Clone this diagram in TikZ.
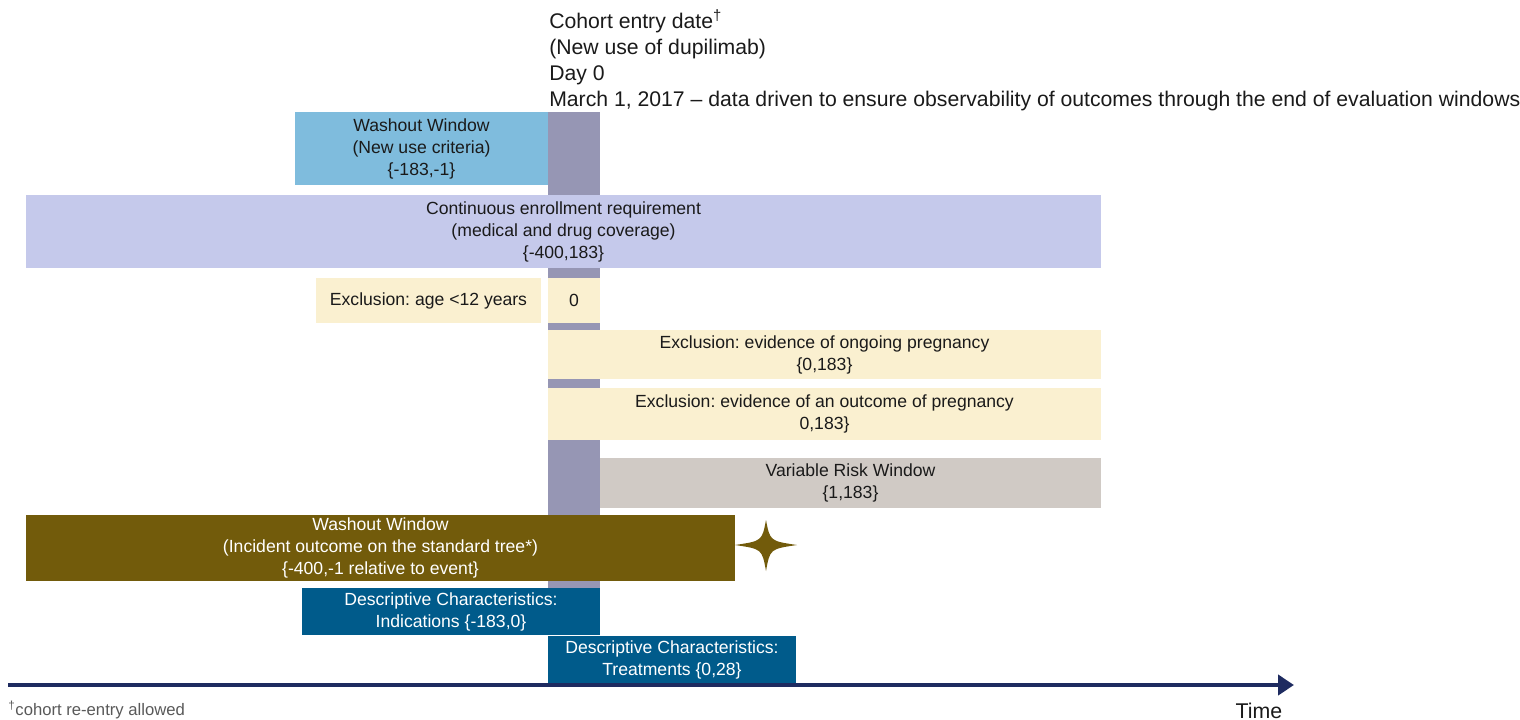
\documentclass[tikz,border=0pt]{standalone}
\usepackage{fontspec}
\setmainfont{Liberation Sans}
\frenchspacing
\usetikzlibrary{arrows.meta}
\definecolor{lblue}{HTML}{7FBCDD}
\definecolor{lavender}{HTML}{C5C9EB}
\definecolor{cream}{HTML}{FAF0D0}
\definecolor{barpurple}{HTML}{9696B4}
\definecolor{riskgrey}{HTML}{D0CAC5}
\definecolor{olive}{HTML}{725B0B}
\definecolor{dblue}{HTML}{005B8B}
\definecolor{axisblue}{HTML}{1E2B60}
\definecolor{textdark}{HTML}{1A1A1A}
\definecolor{notegrey}{HTML}{595959}
\tikzset{
  winbox/.style={draw=none, inner sep=0pt, outer sep=0pt, align=center, text=textdark,
    font=\fontsize{13.2pt}{16.5pt}\selectfont\frenchspacing},
  darkbox/.style={winbox, text=white},
  toplabel/.style={inner sep=0pt, align=left, anchor=north west, text=textdark,
    font=\fontsize{15.9pt}{19.5pt}\selectfont},
}
\begin{document}
\begin{tikzpicture}[x=0.75pt, y=-0.75pt]
\useasboundingbox (0,0) rectangle (1520,720);
% cohort entry bar
\node[draw=none, fill=barpurple, inner sep=0pt, minimum width={52*0.75pt}, minimum height={476*0.75pt}] (bar) at (574,350) {};
% top label
\node[toplabel] (cohort) at (549,9) {Cohort entry date\textsuperscript{†}\\(New use of dupilimab)\\Day 0\\March 1, 2017 -- data driven to ensure observability of outcomes through the end of evaluation windows};
% boxes
\node[winbox, fill=lblue, minimum width={253*0.75pt}, minimum height={73*0.75pt}] (wash1) at (421.5,148.5) {Washout Window\\(New use criteria)\\\{-183,-1\}};
\node[winbox, fill=lavender, minimum width={1075*0.75pt}, minimum height={73*0.75pt}] (enroll) at (563.5,231.5) {Continuous enrollment requirement\\(medical and drug coverage)\\\{-400,183\}};
\node[winbox, fill=cream, minimum width={225*0.75pt}, minimum height={45*0.75pt}] (age) at (428.5,300.5) {Exclusion: age <12 years};
\node[winbox, fill=cream, minimum width={52*0.75pt}, minimum height={45*0.75pt}] (zero) at (574,300.5) {0};
\node[winbox, fill=cream, minimum width={553*0.75pt}, minimum height={49*0.75pt}] (preg) at (824.5,354.5) {Exclusion: evidence of ongoing pregnancy\\\{0,183\}};
\node[winbox, fill=cream, minimum width={553*0.75pt}, minimum height={52*0.75pt}] (pregout) at (824.5,414) {Exclusion: evidence of an outcome of pregnancy\\0,183\}};
\node[winbox, fill=riskgrey, minimum width={501*0.75pt}, minimum height={50*0.75pt}] (risk) at (850.5,483) {Variable Risk Window\\\{1,183\}};
\node[darkbox, fill=olive, minimum width={709*0.75pt}, minimum height={66*0.75pt}] (wash2) at (380.5,548) {Washout Window\\(Incident outcome on the standard tree*)\\\{-400,-1 relative to event\}};
\node[darkbox, fill=dblue, minimum width={298*0.75pt}, minimum height={47*0.75pt}] (indic) at (451,611.5) {Descriptive Characteristics:\\Indications \{-183,0\}};
\node[darkbox, fill=dblue, minimum width={248*0.75pt}, minimum height={49*0.75pt}] (treat) at (672,660) {Descriptive Characteristics:\\Treatments \{0,28\}};
% star
\fill[olive] (766,520) .. controls (770,541) .. (797,545) .. controls (770,549) .. (766,571)
  .. controls (762,549) .. (735,545) .. controls (762,541) .. cycle;
% axis
\coordinate (axstart) at (8,685);
\coordinate (axend) at (1294,685);
\draw[axisblue, line width={4*0.75pt}, -{Triangle[length={16*0.75pt}, width={20*0.75pt}]}] (axstart) -- (axend);
\node[inner sep=0pt, anchor=base, text=textdark, font=\fontsize{16pt}{18pt}\selectfont] (time) at (1259,718) {Time};
\node[inner sep=0pt, anchor=base west, text=notegrey, font=\fontsize{12.5pt}{14pt}\selectfont] (note) at (8,715) {\textsuperscript{†}cohort re-entry allowed};
\end{tikzpicture}
\end{document}
